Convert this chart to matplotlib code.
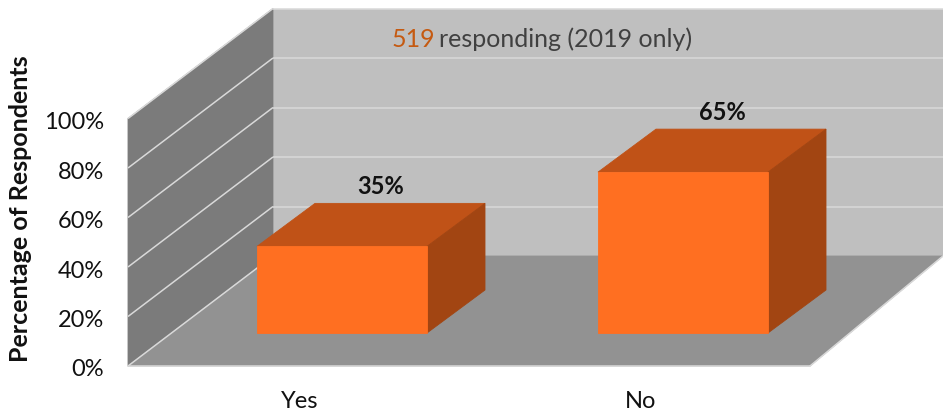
import matplotlib
matplotlib.use('Agg')
import matplotlib.pyplot as plt
from matplotlib.patches import Polygon

categories = ['Yes', 'No']
values = [35, 65]
value_labels = ['35%', '65%']
y_ticks = [0, 20, 40, 60, 80, 100]
y_tick_labels = ['0%', '20%', '40%', '60%', '80%', '100%']

plt.rcParams['font.family'] = ['Lato', 'DejaVu Sans']

fig = plt.figure(figsize=(9.43, 4.12), dpi=100)
ax = fig.add_axes([0, 0, 1, 1])
ax.set_xlim(0, 943)
ax.set_ylim(412, 0)
ax.axis('off')

# chart box in pixels
x0 = 128
y0 = 366
depth_x = 145
depth_y = -110
wall_h = 247.5
right = 810
px_per_pct = wall_h / 100

bar_w = 170
bar_left = [257, 598]
bar_base = 333
bar_dx = 58
bar_dy = -43


def poly(pts, color, edge=None, z=1):
    ax.add_patch(Polygon(pts, closed=True, facecolor=color, edgecolor=edge or color, linewidth=0.6, zorder=z))


# back wall, side wall, floor
bx = x0 + depth_x
by = y0 + depth_y
poly([(bx, by), (bx, by - wall_h), (943, by - wall_h), (943, by)], '#bfbfbf')
poly([(x0, y0), (x0, y0 - wall_h), (bx, by - wall_h), (bx, by)], '#7b7b7b')
poly([(x0, y0), (bx, by), (943, by), (right, y0)], '#929292')

# gridlines
for t in y_ticks:
    h = t * px_per_pct
    ax.plot([x0, bx], [y0 - h, by - h], color='#d9d9d9', lw=1.1, zorder=2, solid_capstyle='butt')
    if t > 0:
        ax.plot([bx, 943], [by - h, by - h], color='#d9d9d9', lw=1.1, zorder=2, solid_capstyle='butt')
    ax.text(104, y0 - h + 4, y_tick_labels[y_ticks.index(t)], ha='right', va='center', fontsize=17, color='#111111')
ax.plot([x0, right], [y0, y0], color='#d9d9d9', lw=1.1, zorder=2)
ax.plot([right, 943], [y0, by], color='#d9d9d9', lw=1.1, zorder=2)

# bars
for left, v, lab, cat in zip(bar_left, values, value_labels, categories):
    h = v * px_per_pct
    top = bar_base - h
    r = left + bar_w
    poly([(left, top), (r, top), (r + bar_dx, top + bar_dy), (left + bar_dx, top + bar_dy)], '#c05217', z=3)
    poly([(r, top), (r + bar_dx, top + bar_dy), (r + bar_dx, bar_base + bar_dy), (r, bar_base)], '#a24512', z=3)
    poly([(left, top), (r, top), (r, bar_base), (left, bar_base)], '#ff6f21', z=4)
    ax.text(left + bar_w / 2 + 39, top + bar_dy - 17, lab, ha='center', va='center', fontsize=17,
            fontweight='bold', color='#111111', zorder=5)
    ax.text(left + bar_w / 2 - 42, 402, cat, ha='center', va='center', fontsize=17, color='#111111')

ax.text(21, 209, 'Percentage of Respondents', rotation=90, ha='center', va='center',
        fontsize=18, fontweight='bold', color='#111111')

# annotation in two colours
ax.text(392, 39, '519', ha='left', va='center', fontsize=18, color='#c55a11', zorder=5)
ax.text(439, 39, 'responding (2019 only)', ha='left', va='center', fontsize=18, color='#404040', zorder=5)

fig.savefig('out.png', dpi=100)
